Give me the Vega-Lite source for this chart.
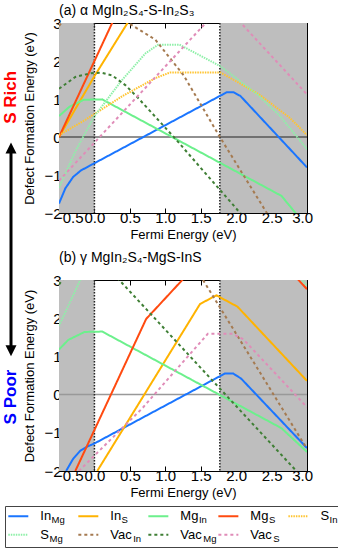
{
  "$schema": "https://vega.github.io/schema/vega-lite/v6.json",
  "padding": {"left": 2, "top": 3, "right": 2, "bottom": 1},
  "background": "white",
  "config": {
    "font": "Liberation Sans",
    "view": {"stroke": "#000", "strokeWidth": 1},
    "axis": {"grid": false, "domainColor": "#000", "domainWidth": 1, "tickColor": "#000", "tickWidth": 1, "tickSize": -5, "labelColor": "#000", "labelFontSize": 15, "labelFont": "Liberation Sans", "titleFont": "Liberation Sans", "titleFontSize": 13, "titleFontWeight": "normal", "titleColor": "#000", "labelOverlap": false, "labelFlush": false},
    "axisX": {"labelPadding": 2.5, "labelFlush": true, "labelFlushOffset": 5.5},
    "axisY": {"labelPadding": 3},
    "title": {"font": "Liberation Sans", "fontSize": 14, "fontWeight": "normal", "anchor": "start", "frame": "group", "color": "#000"}
  },
  "datasets": {
    "gap": [{"region": "valence", "from": -0.5, "to": 0}, {"region": "conduction", "from": 1.77, "to": 3.0}],
    "edges": [{"level": "VBM", "E": 0}, {"level": "CBM", "E": 1.77}],
    "top": [
      {"s": "In_Mg", "E": -0.5, "H": -1.75}, {"s": "In_Mg", "E": -0.41, "H": -1.35}, {"s": "In_Mg", "E": -0.3, "H": -1.05}, {"s": "In_Mg", "E": -0.19, "H": -0.88}, {"s": "In_Mg", "E": 0.0, "H": -0.69}, {"s": "In_Mg", "E": 1.87, "H": 1.18}, {"s": "In_Mg", "E": 1.96, "H": 1.18}, {"s": "In_Mg", "E": 2.06, "H": 1.08}, {"s": "In_Mg", "E": 3.0, "H": -0.8},
      {"s": "In_S", "E": -0.5, "H": 0.0}, {"s": "In_S", "E": 0.0, "H": 1.6}, {"s": "In_S", "E": 0.55, "H": 3.25},
      {"s": "Mg_In", "E": -0.5, "H": 0.55}, {"s": "Mg_In", "E": -0.35, "H": 0.8}, {"s": "Mg_In", "E": -0.15, "H": 0.98}, {"s": "Mg_In", "E": 0.11, "H": 0.99}, {"s": "Mg_In", "E": 2.64, "H": -1.55}, {"s": "Mg_In", "E": 2.86, "H": -2.05},
      {"s": "Mg_S", "E": -0.5, "H": 0.0}, {"s": "Mg_S", "E": 0.3, "H": 3.2},
      {"s": "S_In", "E": -0.5, "H": 0.05}, {"s": "S_In", "E": -0.13, "H": 0.45}, {"s": "S_In", "E": 0.39, "H": 1.07}, {"s": "S_In", "E": 0.86, "H": 1.55}, {"s": "S_In", "E": 1.07, "H": 1.7}, {"s": "S_In", "E": 1.78, "H": 1.7}, {"s": "S_In", "E": 2.34, "H": 1.1}, {"s": "S_In", "E": 2.76, "H": 0.5}, {"s": "S_In", "E": 3.0, "H": 0.05},
      {"s": "S_Mg", "E": -0.5, "H": -1.33}, {"s": "S_Mg", "E": -0.27, "H": -0.38}, {"s": "S_Mg", "E": 0.0, "H": 0.55}, {"s": "S_Mg", "E": 0.39, "H": 1.5}, {"s": "S_Mg", "E": 0.72, "H": 2.2}, {"s": "S_Mg", "E": 0.9, "H": 2.43}, {"s": "S_Mg", "E": 1.2, "H": 2.43}, {"s": "S_Mg", "E": 1.78, "H": 1.86}, {"s": "S_Mg", "E": 2.3, "H": 1.12}, {"s": "S_Mg", "E": 2.62, "H": 0.55}, {"s": "S_Mg", "E": 3.0, "H": -0.32},
      {"s": "Vac_In", "E": -0.5, "H": 2.92}, {"s": "Vac_In", "E": -0.4, "H": 3.15}, {"s": "Vac_In", "E": 0.1, "H": 3.5}, {"s": "Vac_In", "E": 0.48, "H": 3.0}, {"s": "Vac_In", "E": 0.86, "H": 2.56}, {"s": "Vac_In", "E": 1.26, "H": 1.62}, {"s": "Vac_In", "E": 1.77, "H": 0.0}, {"s": "Vac_In", "E": 2.45, "H": -2.05},
      {"s": "Vac_Mg", "E": -0.5, "H": 1.27}, {"s": "Vac_Mg", "E": -0.27, "H": 1.58}, {"s": "Vac_Mg", "E": -0.05, "H": 1.68}, {"s": "Vac_Mg", "E": 0.1, "H": 1.69}, {"s": "Vac_Mg", "E": 0.25, "H": 1.62}, {"s": "Vac_Mg", "E": 0.44, "H": 1.36}, {"s": "Vac_Mg", "E": 0.62, "H": 1.02}, {"s": "Vac_Mg", "E": 1.12, "H": 0.0}, {"s": "Vac_Mg", "E": 2.08, "H": -2.05},
      {"s": "Vac_S", "E": -0.5, "H": -1.15}, {"s": "Vac_S", "E": 1.82, "H": 3.5}, {"s": "Vac_S", "E": 3.0, "H": 1.12}
    ],
    "bottom": [
      {"s": "In_Mg", "E": -0.4, "H": -2.0}, {"s": "In_Mg", "E": -0.3, "H": -1.68}, {"s": "In_Mg", "E": -0.2, "H": -1.47}, {"s": "In_Mg", "E": -0.1, "H": -1.36}, {"s": "In_Mg", "E": 0.0, "H": -1.28}, {"s": "In_Mg", "E": 1.84, "H": 0.55}, {"s": "In_Mg", "E": 1.96, "H": 0.55}, {"s": "In_Mg", "E": 2.07, "H": 0.42}, {"s": "In_Mg", "E": 3.0, "H": -1.4},
      {"s": "In_S", "E": 0.04, "H": -2.0}, {"s": "In_S", "E": 1.49, "H": 2.37}, {"s": "In_S", "E": 1.72, "H": 2.6}, {"s": "In_S", "E": 2.02, "H": 2.3}, {"s": "In_S", "E": 3.0, "H": 0.36},
      {"s": "Mg_In", "E": -0.5, "H": 1.18}, {"s": "Mg_In", "E": -0.37, "H": 1.43}, {"s": "Mg_In", "E": -0.14, "H": 1.64}, {"s": "Mg_In", "E": 0.11, "H": 1.65}, {"s": "Mg_In", "E": 2.64, "H": -0.88}, {"s": "Mg_In", "E": 3.0, "H": -1.5},
      {"s": "Mg_S", "E": -0.27, "H": -2.0}, {"s": "Mg_S", "E": 0.73, "H": 1.98}, {"s": "Mg_S", "E": 2.06, "H": 4.64}, {"s": "Mg_S", "E": 3.0, "H": 2.76},
      {"s": "S_Mg", "E": -0.5, "H": 1.8}, {"s": "S_Mg", "E": -0.1, "H": 3.4}, {"s": "S_Mg", "E": 2.6, "H": 3.7}, {"s": "S_Mg", "E": 3.0, "H": 2.85},
      {"s": "Vac_In", "E": 1.4, "H": 3.4}, {"s": "Vac_In", "E": 3.0, "H": -1.42},
      {"s": "Vac_Mg", "E": -0.5, "H": 2.88}, {"s": "Vac_Mg", "E": -0.4, "H": 3.15}, {"s": "Vac_Mg", "E": 0.1, "H": 3.6}, {"s": "Vac_Mg", "E": 0.3, "H": 3.1}, {"s": "Vac_Mg", "E": 2.87, "H": -2.04},
      {"s": "Vac_S", "E": -0.22, "H": -2.0}, {"s": "Vac_S", "E": 0.68, "H": -0.35}, {"s": "Vac_S", "E": 1.1, "H": 0.54}, {"s": "Vac_S", "E": 1.6, "H": 1.59}, {"s": "Vac_S", "E": 1.95, "H": 1.59}, {"s": "Vac_S", "E": 2.1, "H": 1.45}, {"s": "Vac_S", "E": 3.0, "H": -0.33}
    ],
    "legend": [
      {"s": "In_Mg", "main": "In", "sub": "Mg", "col": 0, "row": 0},
      {"s": "In_S", "main": "In", "sub": "S", "col": 1, "row": 0},
      {"s": "Mg_In", "main": "Mg", "sub": "In", "col": 2, "row": 0},
      {"s": "Mg_S", "main": "Mg", "sub": "S", "col": 3, "row": 0},
      {"s": "S_In", "main": "S", "sub": "In", "col": 4, "row": 0},
      {"s": "S_Mg", "main": "S", "sub": "Mg", "col": 0, "row": 1},
      {"s": "Vac_In", "main": "Vac", "sub": "In", "col": 1, "row": 1},
      {"s": "Vac_Mg", "main": "Vac", "sub": "Mg", "col": 2, "row": 1},
      {"s": "Vac_S", "main": "Vac", "sub": "S", "col": 3, "row": 1}
    ]
  },
  "vconcat": [
    {
      "hconcat": [
        {
          "width": 12, "height": 440,
          "view": {"stroke": null},
          "layer": [
            {"data": {"values": [{"label": "S Rich", "pos": 0.169}]},
             "mark": {"type": "text", "angle": 270, "fontSize": 17, "fontWeight": "bold", "color": "#ff0000", "align": "center", "baseline": "middle"},
             "encoding": {"y": {"field": "pos", "type": "quantitative", "scale": {"domain": [0, 1], "reverse": true, "nice": false, "zero": false}, "axis": null}, "x": {"datum": 0.5, "type": "quantitative", "scale": {"domain": [0, 1], "nice": false}, "axis": null}, "text": {"field": "label"}}},
            {"data": {"values": [{"label": "S Poor", "pos": 0.85}]},
             "mark": {"type": "text", "angle": 270, "fontSize": 17, "fontWeight": "bold", "color": "#0000ff", "align": "center", "baseline": "middle"},
             "encoding": {"y": {"field": "pos", "type": "quantitative", "axis": null}, "x": {"datum": 0.5, "type": "quantitative", "axis": null}, "text": {"field": "label"}}},
            {"data": {"values": [{"from": 0.284, "to": 0.745}]},
             "mark": {"type": "rule", "strokeWidth": 3, "color": "#000"},
             "encoding": {"y": {"field": "from", "type": "quantitative", "axis": null}, "y2": {"field": "to"}, "x": {"datum": 0.5, "type": "quantitative", "axis": null}}},
            {"data": {"values": [{"end": "rich", "pos": 0.284}, {"end": "poor", "pos": 0.745}]},
             "mark": {"type": "point", "filled": true, "opacity": 1, "color": "#000", "size": 121},
             "encoding": {"y": {"field": "pos", "type": "quantitative", "axis": null}, "x": {"datum": 0.5, "type": "quantitative", "axis": null}, "shape": {"field": "end", "type": "nominal", "scale": {"domain": ["rich", "poor"], "range": ["M0,-1L1,1L-1,1Z", "M0,1L1,-1L-1,-1Z"]}, "legend": null}}}
          ]
        },
        {
          "vconcat": [
            {
              "width": 248, "height": 190,
              "title": {"text": "(a) α MgIn₂S₄-S-In₂S₃", "offset": -2},
              "resolve": {"axis": {"x": "independent", "y": "independent"}},
              "layer": [
                {"data": {"name": "gap"}, "mark": {"type": "rect", "color": "#bebebe"},
                 "encoding": {
                   "x": {"field": "from", "type": "quantitative", "scale": {"domain": [-0.5, 3], "nice": false, "zero": false}, "axis": {"orient": "top", "values": [-0.5, 0, 0.5, 1, 1.5, 2, 2.5, 3], "labels": false, "title": null}},
                   "x2": {"field": "to"},
                   "y": {"datum": 3, "type": "quantitative", "scale": {"domain": [-2, 3], "nice": false, "zero": false}, "axis": {"orient": "right", "values": [-2, -1, 0, 1, 2, 3], "labels": false, "title": null}},
                   "y2": {"datum": -2}}},
                {"data": {"values": [{"H": 0}]}, "mark": {"type": "rule", "color": "#222", "strokeWidth": 1},
                 "encoding": {"y": {"field": "H", "type": "quantitative", "axis": null}}},
                {"data": {"name": "edges"}, "mark": {"type": "rule", "color": "#222", "strokeWidth": 1.5, "strokeDash": [1.5, 1.5]},
                 "encoding": {"x": {"field": "E", "type": "quantitative", "axis": null}}},
                {"data": {"name": "top"}, "mark": {"type": "line", "clip": true},
                 "encoding": {
                   "x": {"field": "E", "type": "quantitative", "axis": {"orient": "bottom", "values": [-0.5, 0, 0.5, 1, 1.5, 2, 2.5, 3], "format": ".1f", "title": "Fermi Energy (eV)", "titlePadding": 3}},
                   "y": {"field": "H", "type": "quantitative", "axis": {"orient": "left", "values": [-2, -1, 0, 1, 2, 3], "format": "d", "title": "Defect Formation Energy (eV)", "titlePadding": 7}},
                   "color": {"field": "s", "type": "nominal", "scale": {"domain": ["In_Mg", "In_S", "Mg_In", "Mg_S", "S_In", "S_Mg", "Vac_In", "Vac_Mg", "Vac_S"], "range": ["#1a75ff", "#ffb300", "#6cf08c", "#ff4a10", "#ffc430", "#8ef0a8", "#a57a50", "#3f7f35", "#e08cb8"]}, "legend": null},
                   "strokeDash": {"field": "s", "type": "nominal", "scale": {"domain": ["In_Mg", "In_S", "Mg_In", "Mg_S", "S_In", "S_Mg", "Vac_In", "Vac_Mg", "Vac_S"], "range": [[1, 0], [1, 0], [1, 0], [1, 0], [1.5, 1], [1.5, 1], [3, 3], [3, 3], [3, 3]]}, "legend": null},
                   "strokeWidth": {"field": "s", "type": "nominal", "scale": {"domain": ["In_Mg", "In_S", "Mg_In", "Mg_S", "S_In", "S_Mg", "Vac_In", "Vac_Mg", "Vac_S"], "range": [2, 2, 2, 2, 3, 3, 2.5, 2.5, 2.5]}, "legend": null}}}
              ]
            },
            {
              "width": 248, "height": 191,
              "title": {"text": "(b) γ MgIn₂S₄-MgS-InS", "offset": 8},
              "resolve": {"axis": {"x": "independent", "y": "independent"}},
              "layer": [
                {"data": {"name": "gap"}, "mark": {"type": "rect", "color": "#bebebe"},
                 "encoding": {
                   "x": {"field": "from", "type": "quantitative", "scale": {"domain": [-0.5, 3], "nice": false, "zero": false}, "axis": {"orient": "top", "values": [-0.5, 0, 0.5, 1, 1.5, 2, 2.5, 3], "labels": false, "title": null}},
                   "x2": {"field": "to"},
                   "y": {"datum": 3, "type": "quantitative", "scale": {"domain": [-2, 3], "nice": false, "zero": false}, "axis": {"orient": "right", "values": [-2, -1, 0, 1, 2, 3], "labels": false, "title": null}},
                   "y2": {"datum": -2}}},
                {"data": {"values": [{"H": 0}]}, "mark": {"type": "rule", "color": "#999", "strokeWidth": 1.5},
                 "encoding": {"y": {"field": "H", "type": "quantitative", "axis": null}}},
                {"data": {"name": "edges"}, "mark": {"type": "rule", "color": "#222", "strokeWidth": 1.5, "strokeDash": [1.5, 1.5]},
                 "encoding": {"x": {"field": "E", "type": "quantitative", "axis": null}}},
                {"data": {"name": "bottom"}, "mark": {"type": "line", "clip": true},
                 "encoding": {
                   "x": {"field": "E", "type": "quantitative", "axis": {"orient": "bottom", "values": [-0.5, 0, 0.5, 1, 1.5, 2, 2.5, 3], "format": ".1f", "title": "Fermi Energy (eV)", "titlePadding": 3}},
                   "y": {"field": "H", "type": "quantitative", "axis": {"orient": "left", "values": [-2, -1, 0, 1, 2, 3], "format": "d", "title": "Defect Formation Energy (eV)", "titlePadding": 7}},
                   "color": {"field": "s", "type": "nominal", "scale": {"domain": ["In_Mg", "In_S", "Mg_In", "Mg_S", "S_In", "S_Mg", "Vac_In", "Vac_Mg", "Vac_S"], "range": ["#1a75ff", "#ffb300", "#6cf08c", "#ff4a10", "#ffc430", "#8ef0a8", "#a57a50", "#3f7f35", "#e08cb8"]}, "legend": null},
                   "strokeDash": {"field": "s", "type": "nominal", "scale": {"domain": ["In_Mg", "In_S", "Mg_In", "Mg_S", "S_In", "S_Mg", "Vac_In", "Vac_Mg", "Vac_S"], "range": [[1, 0], [1, 0], [1, 0], [1, 0], [1.5, 1], [1.5, 1], [3, 3], [3, 3], [3, 3]]}, "legend": null},
                   "strokeWidth": {"field": "s", "type": "nominal", "scale": {"domain": ["In_Mg", "In_S", "Mg_In", "Mg_S", "S_In", "S_Mg", "Vac_In", "Vac_Mg", "Vac_S"], "range": [2, 2, 2, 2, 3, 3, 2.5, 2.5, 2.5]}, "legend": null}}}
              ]
            }
          ],
          "spacing": 8
        }
      ],
      "spacing": 4
    },
    {
      "width": 334, "height": 41,
      "view": {"stroke": "#444", "strokeWidth": 1},
      "data": {"name": "legend"},
      "layer": [
        {"mark": {"type": "point", "shape": "M-1,0L1,0", "size": 400, "filled": false, "opacity": 1},
         "encoding": {
           "x": {"field": "col", "type": "quantitative", "scale": {"domain": [-0.19, 4.58], "nice": false, "zero": false}, "axis": null},
           "y": {"field": "row", "type": "quantitative", "scale": {"domain": [-0.56, 1.67], "nice": false, "zero": false, "reverse": true}, "axis": null},
           "color": {"field": "s", "type": "nominal", "scale": {"domain": ["In_Mg", "In_S", "Mg_In", "Mg_S", "S_In", "S_Mg", "Vac_In", "Vac_Mg", "Vac_S"], "range": ["#1a75ff", "#ffb300", "#6cf08c", "#ff4a10", "#ffc430", "#8ef0a8", "#a57a50", "#3f7f35", "#e08cb8"]}, "legend": null},
           "strokeDash": {"field": "s", "type": "nominal", "scale": {"domain": ["In_Mg", "In_S", "Mg_In", "Mg_S", "S_In", "S_Mg", "Vac_In", "Vac_Mg", "Vac_S"], "range": [[1, 0], [1, 0], [1, 0], [1, 0], [1.5, 1], [1.5, 1], [3, 3], [3, 3], [3, 3]]}, "legend": null},
           "strokeWidth": {"field": "s", "type": "nominal", "scale": {"domain": ["In_Mg", "In_S", "Mg_In", "Mg_S", "S_In", "S_Mg", "Vac_In", "Vac_Mg", "Vac_S"], "range": [2, 2, 2, 2, 3, 3, 2.5, 2.5, 2.5]}, "legend": null}}},
        {"mark": {"type": "text", "align": "left", "baseline": "middle", "dx": 22, "fontSize": 13, "color": "#000"},
         "encoding": {"x": {"field": "col", "type": "quantitative"}, "y": {"field": "row", "type": "quantitative"}, "text": {"field": "main"}}},
        {"transform": [{"filter": "datum.main === 'In'"}],
         "mark": {"type": "text", "align": "left", "baseline": "middle", "dx": 33.3, "dy": 4, "fontSize": 9.5, "color": "#000"},
         "encoding": {"x": {"field": "col", "type": "quantitative"}, "y": {"field": "row", "type": "quantitative"}, "text": {"field": "sub"}}},
        {"transform": [{"filter": "datum.main === 'S'"}],
         "mark": {"type": "text", "align": "left", "baseline": "middle", "dx": 31.2, "dy": 4, "fontSize": 9.5, "color": "#000"},
         "encoding": {"x": {"field": "col", "type": "quantitative"}, "y": {"field": "row", "type": "quantitative"}, "text": {"field": "sub"}}},
        {"transform": [{"filter": "datum.main === 'Mg'"}],
         "mark": {"type": "text", "align": "left", "baseline": "middle", "dx": 40.6, "dy": 4, "fontSize": 9.5, "color": "#000"},
         "encoding": {"x": {"field": "col", "type": "quantitative"}, "y": {"field": "row", "type": "quantitative"}, "text": {"field": "sub"}}},
        {"transform": [{"filter": "datum.main === 'Vac'"}],
         "mark": {"type": "text", "align": "left", "baseline": "middle", "dx": 44.9, "dy": 4, "fontSize": 9.5, "color": "#000"},
         "encoding": {"x": {"field": "col", "type": "quantitative"}, "y": {"field": "row", "type": "quantitative"}, "text": {"field": "sub"}}}
      ]
    }
  ],
  "spacing": 5
}
